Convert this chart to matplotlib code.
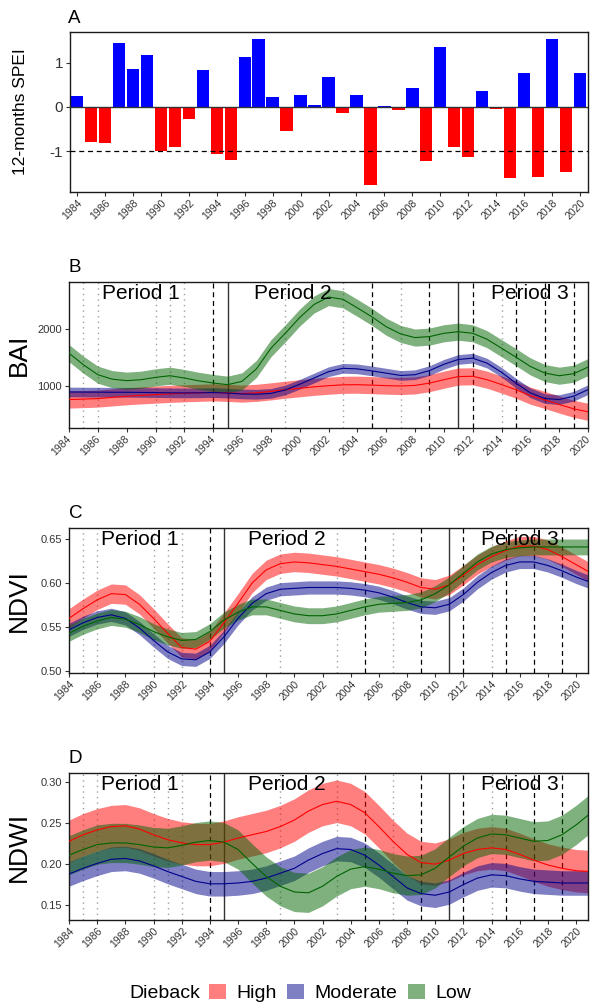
import matplotlib
matplotlib.use("Agg")
import matplotlib.pyplot as plt
from matplotlib.patches import Patch
from matplotlib.transforms import blended_transform_factory, ScaledTranslation

plt.rcParams['font.family'] = ['Liberation Sans', 'DejaVu Sans']

# ---------------- data ----------------
spei_years = list(range(1984, 2021))
spei_values = [0.25, -0.80, -0.81, 1.45, 0.87, 1.17, -0.99, -0.91, -0.27, 0.83,
               -1.07, -1.21, 1.13, 1.55, 0.23, -0.54, 0.26, 0.04, 0.68, -0.14,
               0.28, -1.77, 0.01, -0.07, 0.43, -1.22, 1.37, -0.91, -1.13, 0.37,
               -0.05, -1.61, 0.78, -1.58, 1.55, -1.47, 0.77]

bai_years = list(range(1984, 2021))
bai_high = [762, 770, 779, 800, 820, 835, 849, 862, 872, 880, 888, 880, 866, 880,
            905, 935, 960, 985, 1005, 1020, 1023, 1015, 1006, 1000, 1010, 1050,
            1110, 1165, 1170, 1110, 1025, 936, 830, 755, 675, 600, 547]
bai_moderate = [895, 893, 892, 890, 890, 887, 884, 880, 878, 880, 885, 875, 860, 855,
                870, 930, 1030, 1140, 1250, 1310, 1300, 1265, 1225, 1185, 1198, 1270,
                1380, 1465, 1488, 1400, 1240, 1050, 880, 780, 762, 820, 936]
bai_low = [1576, 1372, 1198, 1120, 1093, 1110, 1151, 1180, 1140, 1090, 1052, 1023,
           1081, 1300, 1660, 1924, 2200, 2430, 2560, 2520, 2370, 2215, 2040, 1913,
           1849, 1866, 1924, 1953, 1924, 1820, 1663, 1506, 1343, 1227, 1180, 1215, 1331]
bai_halfwidth = {'High': 150, 'Moderate': 85, 'Low': 150}

vi_years = list(range(1984, 2022))
ndvi_high = [0.560, 0.571, 0.581, 0.588, 0.587, 0.576, 0.560, 0.543, 0.527, 0.525,
             0.534, 0.555, 0.577, 0.600, 0.615, 0.622, 0.624, 0.623, 0.621, 0.619,
             0.616, 0.613, 0.610, 0.606, 0.601, 0.595, 0.593, 0.598, 0.609, 0.621,
             0.630, 0.637, 0.642, 0.642, 0.638, 0.630, 0.621, 0.612]
ndvi_moderate = [0.547, 0.555, 0.561, 0.564, 0.560, 0.549, 0.535, 0.522, 0.514, 0.513,
                 0.522, 0.539, 0.560, 0.577, 0.588, 0.593, 0.594, 0.595, 0.595, 0.595,
                 0.594, 0.592, 0.589, 0.584, 0.578, 0.573, 0.572, 0.576, 0.587, 0.601,
                 0.612, 0.620, 0.624, 0.624, 0.620, 0.614, 0.607, 0.601]
ndvi_low = [0.543, 0.551, 0.557, 0.561, 0.559, 0.553, 0.545, 0.539, 0.535, 0.536,
            0.545, 0.558, 0.567, 0.573, 0.573, 0.569, 0.565, 0.563, 0.563, 0.565,
            0.569, 0.573, 0.576, 0.577, 0.578, 0.581, 0.588, 0.598, 0.611, 0.624,
            0.633, 0.638, 0.640, 0.641, 0.641, 0.641, 0.641, 0.641]
ndvi_halfwidth = {'High': 0.011, 'Moderate': 0.0075, 'Low': 0.009}

ndwi_high = [0.228, 0.236, 0.242, 0.246, 0.247, 0.243, 0.236, 0.230, 0.226, 0.224,
             0.224, 0.227, 0.232, 0.236, 0.240, 0.246, 0.254, 0.265, 0.273, 0.277,
             0.273, 0.263, 0.246, 0.228, 0.212, 0.202, 0.200, 0.205, 0.213, 0.218,
             0.220, 0.218, 0.212, 0.205, 0.199, 0.195, 0.192, 0.191]
ndwi_moderate = [0.188, 0.195, 0.201, 0.206, 0.207, 0.204, 0.198, 0.191, 0.185, 0.179,
                 0.176, 0.176, 0.177, 0.179, 0.183, 0.189, 0.195, 0.205, 0.213, 0.219,
                 0.218, 0.211, 0.199, 0.185, 0.171, 0.164, 0.162, 0.166, 0.175, 0.183,
                 0.187, 0.186, 0.182, 0.179, 0.178, 0.177, 0.177, 0.177]
ndwi_low = [0.211, 0.218, 0.224, 0.226, 0.226, 0.224, 0.221, 0.220, 0.223, 0.227,
            0.229, 0.227, 0.218, 0.201, 0.185, 0.173, 0.166, 0.165, 0.173, 0.185,
            0.194, 0.197, 0.194, 0.189, 0.186, 0.187, 0.195, 0.209, 0.222, 0.232,
            0.237, 0.236, 0.232, 0.228, 0.229, 0.236, 0.248, 0.262]
ndwi_halfwidth = {'High': 0.026, 'Moderate': 0.015, 'Low': 0.024}

dotted_years = [1985, 1986, 1990, 1991, 1992, 1999, 2003, 2007, 2014]
dashed_years = [1994, 2005, 2009, 2012, 2015, 2017, 2019]
period_bounds = [1995, 2011]
period_labels = ['Period 1', 'Period 2', 'Period 3']
period_label_x = [1989.0, 1999.5, 2016.0]

groups = ['High', 'Moderate', 'Low']
fill_colors = {'High': 'red', 'Moderate': '#00008B', 'Low': '#006400'}
line_colors = {'High': 'red', 'Moderate': '#00008B', 'Low': '#006400'}
xtick_years = list(range(1984, 2021, 2))

# ---------------- figure ----------------
W, H = 592, 1006
fig = plt.figure(figsize=(W / 100, H / 100), dpi=100)


def ax_px(left, top, right, bottom):
    return fig.add_axes([left / W, 1 - bottom / H, (right - left) / W, (bottom - top) / H])


TICK_COL = '#333333'


def style_axes(ax, ylab, ylab_size, ytick_size, xshift_px=0):
    for s in ax.spines.values():
        s.set_color('#1a1a1a')
        s.set_linewidth(1.0)
    ax.set_xticks(xtick_years)
    ax.tick_params(axis='both', direction='out', length=3, width=0.8, color='#333333')
    ax.tick_params(axis='y', labelsize=ytick_size, labelcolor=TICK_COL, pad=2)
    ax.tick_params(axis='x', pad=1)
    labels = ax.set_xticklabels([str(y) for y in xtick_years], rotation=45, ha='right',
                                va='top', rotation_mode='anchor', fontsize=7.5, color=TICK_COL)
    if xshift_px:
        off = ScaledTranslation(xshift_px / 100, 0, fig.dpi_scale_trans)
        for lab in labels:
            lab.set_transform(lab.get_transform() + off)
    ax.set_ylabel(ylab, fontsize=ylab_size, color='black')


# Panel A
axA = ax_px(70, 32, 588, 192)
bar_cols = ['blue' if v >= 0 else 'red' for v in spei_values]
axA.bar(spei_years, spei_values, width=0.88, color=bar_cols, edgecolor='none', zorder=2)
axA.axhline(0, color='#333333', lw=1.0, zorder=3)
axA.axhline(-1, color='black', lw=0.9, ls=(0, (4, 3)), zorder=3)
axA.set_xlim(1983.5, 2020.57)
axA.set_ylim(-1.93, 1.70)
axA.set_yticks([-1, 0, 1])
axA.set_yticklabels(['-1', '0', '1'])
style_axes(axA, '12-months SPEI', 12.5, 11)
axA.yaxis.set_label_coords((28 - 70) / 518, 0.5)


def ribbon_panel(ax, years, series, halfw, ylim, yticks, yticklabels, ylab, xlim, xshift_px=0):
    for xv in dotted_years:
        ax.axvline(xv, color='#a0a0a0', lw=1.0, ls=(0, (1, 3)), zorder=1)
    for xv in dashed_years:
        ax.axvline(xv, color='black', lw=0.9, ls=(0, (4, 3)), zorder=1)
    for xv in period_bounds:
        ax.axvline(xv, color='#333333', lw=1.0, zorder=1)
    for g in groups:
        vals = series[g]
        lo = [v - halfw[g] for v in vals]
        hi = [v + halfw[g] for v in vals]
        ax.fill_between(years, lo, hi, color=fill_colors[g], alpha=0.5, lw=0, zorder=2)
    for g in groups:
        ax.plot(years, series[g], color=line_colors[g], lw=0.8, zorder=3)
    tr = blended_transform_factory(ax.transData, ax.transAxes)
    for lab, xp in zip(period_labels, period_label_x):
        ax.text(xp, 0.985, lab, transform=tr, ha='center', va='top', fontsize=15,
                color='black', zorder=4)
    ax.set_xlim(*xlim)
    ax.set_ylim(*ylim)
    ax.set_yticks(yticks)
    ax.set_yticklabels(yticklabels)
    style_axes(ax, ylab, 19, 8, xshift_px)
    ax.yaxis.set_label_coords((31 - 69) / 519, 0.5)


axB = ax_px(69, 282, 588, 428)
ribbon_panel(axB, bai_years, {'High': bai_high, 'Moderate': bai_moderate, 'Low': bai_low},
             bai_halfwidth, (263, 2824), [1000, 2000], ['1000', '2000'], 'BAI', (1984, 2020),
             xshift_px=-3)

axC = ax_px(69, 528, 588, 673)
ribbon_panel(axC, vi_years, {'High': ndvi_high, 'Moderate': ndvi_moderate, 'Low': ndvi_low},
             ndvi_halfwidth, (0.498, 0.6625), [0.50, 0.55, 0.60, 0.65],
             ['0.50', '0.55', '0.60', '0.65'], 'NDVI', (1984, 2020.85))

axD = ax_px(69, 773, 588, 920)
ribbon_panel(axD, vi_years, {'High': ndwi_high, 'Moderate': ndwi_moderate, 'Low': ndwi_low},
             ndwi_halfwidth, (0.1317, 0.3116), [0.15, 0.20, 0.25, 0.30],
             ['0.15', '0.20', '0.25', '0.30'], 'NDWI', (1984, 2020.85))

# panel letters
for lab, (px, py) in zip(['A', 'B', 'C', 'D'], [(68, 23), (69, 272), (69, 518), (69, 763)]):
    fig.text(px / W, 1 - py / H, lab, fontsize=13.5, ha='left', va='baseline')

# legend
fig.text(129 / W, 1 - 993 / H, 'Dieback', fontsize=14, ha='left', va='center')
handles = [Patch(facecolor=fill_colors[g], alpha=0.5, edgecolor='none', label=g) for g in groups]
fig.legend(handles=handles, loc='center left', bbox_to_anchor=(209 / W, 1 - 993 / H),
           ncol=3, frameon=False, fontsize=14, handlelength=0.85, handleheight=0.85,
           handletextpad=0.55, columnspacing=0.55, borderpad=0, borderaxespad=0)

fig.savefig('out.png', dpi=100)
